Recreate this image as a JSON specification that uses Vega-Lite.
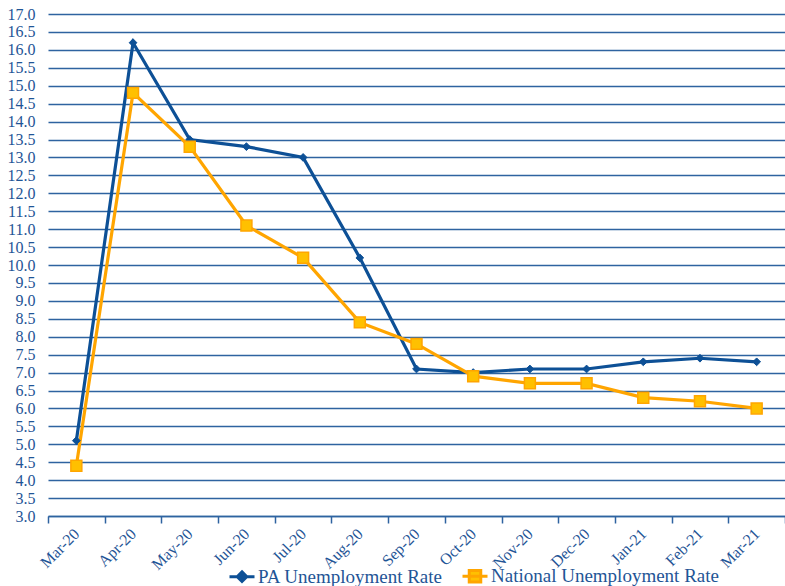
{
  "$schema": "https://vega.github.io/schema/vega-lite/v6.json",
  "width": 737,
  "height": 502,
  "autosize": "none",
  "padding": {"left": 48, "top": 14, "right": 0, "bottom": 70},
  "background": "white",
  "config": {"view": {"stroke": null}, "font": "Liberation Serif", "axis": {"labelFont": "Liberation Serif"}, "legend": {"labelFont": "Liberation Serif"}},
  "data": {"values": [
    {"month": "Mar-20", "series": "PA Unemployment Rate", "rate": 5.1},
    {"month": "Apr-20", "series": "PA Unemployment Rate", "rate": 16.2},
    {"month": "May-20", "series": "PA Unemployment Rate", "rate": 13.5},
    {"month": "Jun-20", "series": "PA Unemployment Rate", "rate": 13.3},
    {"month": "Jul-20", "series": "PA Unemployment Rate", "rate": 13.0},
    {"month": "Aug-20", "series": "PA Unemployment Rate", "rate": 10.2},
    {"month": "Sep-20", "series": "PA Unemployment Rate", "rate": 7.1},
    {"month": "Oct-20", "series": "PA Unemployment Rate", "rate": 7.0},
    {"month": "Nov-20", "series": "PA Unemployment Rate", "rate": 7.1},
    {"month": "Dec-20", "series": "PA Unemployment Rate", "rate": 7.1},
    {"month": "Jan-21", "series": "PA Unemployment Rate", "rate": 7.3},
    {"month": "Feb-21", "series": "PA Unemployment Rate", "rate": 7.4},
    {"month": "Mar-21", "series": "PA Unemployment Rate", "rate": 7.3},
    {"month": "Mar-20", "series": "National Unemployment Rate", "rate": 4.4},
    {"month": "Apr-20", "series": "National Unemployment Rate", "rate": 14.8},
    {"month": "May-20", "series": "National Unemployment Rate", "rate": 13.3},
    {"month": "Jun-20", "series": "National Unemployment Rate", "rate": 11.1},
    {"month": "Jul-20", "series": "National Unemployment Rate", "rate": 10.2},
    {"month": "Aug-20", "series": "National Unemployment Rate", "rate": 8.4},
    {"month": "Sep-20", "series": "National Unemployment Rate", "rate": 7.8},
    {"month": "Oct-20", "series": "National Unemployment Rate", "rate": 6.9},
    {"month": "Nov-20", "series": "National Unemployment Rate", "rate": 6.7},
    {"month": "Dec-20", "series": "National Unemployment Rate", "rate": 6.7},
    {"month": "Jan-21", "series": "National Unemployment Rate", "rate": 6.3},
    {"month": "Feb-21", "series": "National Unemployment Rate", "rate": 6.2},
    {"month": "Mar-21", "series": "National Unemployment Rate", "rate": 6.0}
  ]},
  "encoding": {
    "x": {
      "field": "month", "type": "ordinal", "sort": null,
      "scale": {"type": "band", "paddingInner": 0, "paddingOuter": 0},
      "axis": {
        "title": null, "tickBand": "extent", "labelAngle": -45, "labelAlign": "right", "labelBaseline": "middle",
        "labelFontSize": 16, "labelColor": "#1F5596", "labelPadding": 8,
        "domainColor": "#2E63A0", "domainWidth": 1.5, "tickColor": "#2E63A0", "tickWidth": 1.5, "tickSize": 7,
        "grid": false
      }
    },
    "y": {
      "field": "rate", "type": "quantitative",
      "scale": {"domain": [3, 17], "nice": false, "zero": false},
      "axis": {
        "title": null, "values": [3,3.5,4,4.5,5,5.5,6,6.5,7,7.5,8,8.5,9,9.5,10,10.5,11,11.5,12,12.5,13,13.5,14,14.5,15,15.5,16,16.5,17],
        "format": ".1f", "domain": false, "ticks": false, "labelFontSize": 16, "labelColor": "#1F5596", "labelPadding": 13,
        "grid": true, "gridColor": "#2E63A0", "gridWidth": 1.3
      }
    }
  },
  "layer": [
    {
      "mark": {"type": "line", "strokeWidth": 3.2},
      "encoding": {
        "color": {
          "field": "series", "type": "nominal",
          "scale": {"domain": ["PA Unemployment Rate", "National Unemployment Rate"], "range": ["#0D5096", "#FFA500"]},
          "legend": {
            "title": null, "orient": "none", "legendX": 180, "legendY": 548, "direction": "horizontal",
            "labelFontSize": 19, "labelLimit": 400, "labelColor": "#1F5596", "symbolSize": 625, "columnPadding": 12, "labelOffset": 2,
            "encode": {"symbols": {"update": {
              "shape": {"signal": "datum.value == 'PA Unemployment Rate' ? 'M-1,0H1M0,-0.38L0.38,0L0,0.38L-0.38,0Z' : 'M-1,0H1M-0.46,-0.46H0.46V0.46H-0.46Z'"},
              "fill": {"signal": "datum.value == 'PA Unemployment Rate' ? '#0D5096' : '#FFC000'"},
              "stroke": {"signal": "datum.value == 'PA Unemployment Rate' ? '#0D5096' : '#FFA500'"},
              "strokeWidth": {"value": 3},
              "opacity": {"value": 1}
            }}}
          }
        }
      }
    },
    {
      "transform": [{"filter": "datum.series == 'PA Unemployment Rate'"}],
      "mark": {"type": "point", "shape": "diamond", "filled": true, "opacity": 1, "fill": "#0D5096", "stroke": "#0D5096", "strokeWidth": 1, "size": 60}
    },
    {
      "transform": [{"filter": "datum.series == 'National Unemployment Rate'"}],
      "mark": {"type": "point", "shape": "square", "filled": true, "opacity": 1, "fill": "#FFC000", "stroke": "#FFA500", "strokeWidth": 1.5, "size": 120}
    }
  ]
}
